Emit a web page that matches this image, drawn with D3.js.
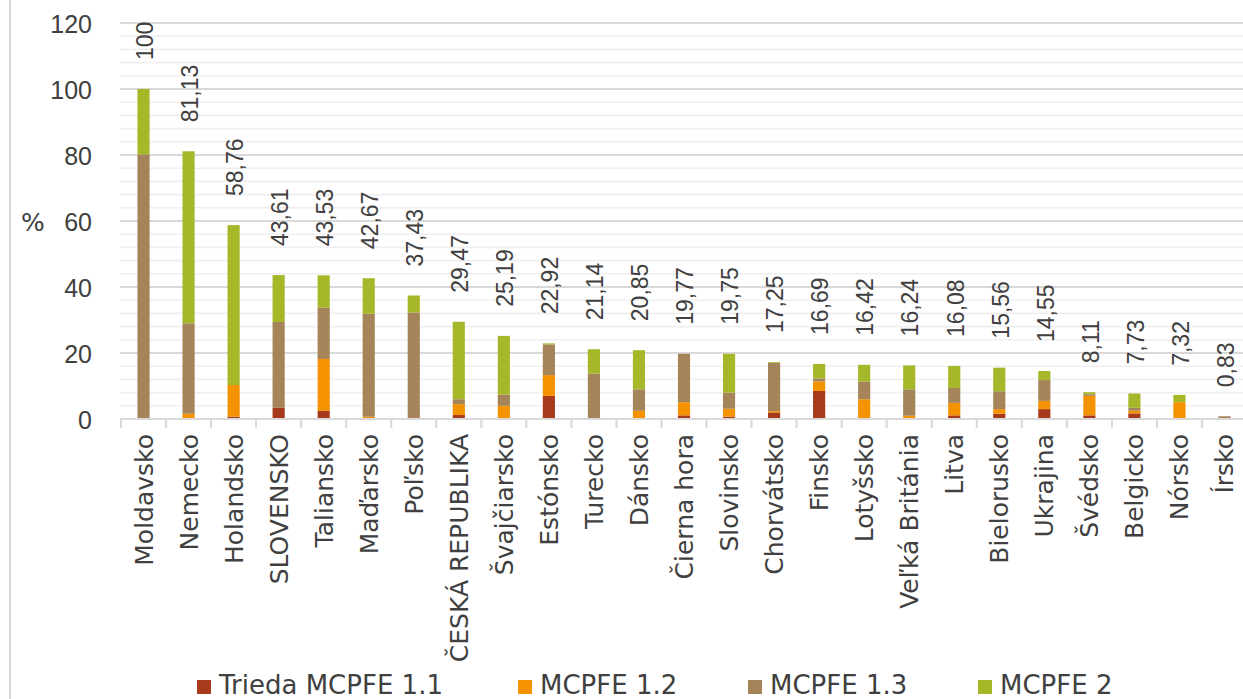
<!DOCTYPE html>
<html>
<head>
<meta charset="utf-8">
<script src="https://cdn.jsdelivr.net/npm/d3@7"></script>
<style>
  html, body { margin: 0; padding: 0; background: #fff; }
  svg { display: block; }
</style>
</head>
<body>
<svg id="chart" width="1243" height="699"></svg>
<script>
// ---- data ----
const categories = ["Moldavsko","Nemecko","Holandsko","SLOVENSKO","Taliansko","Maďarsko","Poľsko","ČESKÁ REPUBLIKA","Švajčiarsko","Estónsko","Turecko","Dánsko","Čierna hora","Slovinsko","Chorvátsko","Finsko","Lotyšsko","Veľká Británia","Litva","Bielorusko","Ukrajina","Švédsko","Belgicko","Nórsko","Írsko"];
const seriesNames = ["Trieda MCPFE 1.1","MCPFE 1.2","MCPFE 1.3","MCPFE 2"];
const mcpfe11 = [0,   0,   0.7, 3.5, 2.5,  0,    0.5, 1.2, 0,   7.0, 0,    0,    1.1, 0.7, 2.0, 8.5, 0,   0,   1.1, 1.6, 3.0, 1.1, 1.7, 0,   0];
const mcpfe12 = [0,   1.6, 9.6, 0,   15.7, 0.7,  0,   3.3, 4.0, 6.3, 0,    2.5,  4.0, 2.4, 0.4, 2.9, 6.0, 1.0, 3.8, 1.4, 2.5, 5.9, 0.8, 5.1, 0];
const mcpfe13 = [80.2,27.4,0,   25.9,15.6, 31.2, 31.8,1.5, 3.4, 9.3, 13.8, 6.5,  14.67,4.9,14.6,0.9, 5.3, 8.0, 4.5, 5.4, 6.3, 0.5, 0.9, 0,   0.83];
const mcpfe2  = [19.8,52.13,48.46,14.21,9.73,10.77,5.13,23.47,17.79,0.32,7.34,11.85,0,  11.75,0.25,4.39,5.12,7.24,6.68,7.16,2.75,0.61,4.33,2.22,0];
const totalLabels = ["100","81,13","58,76","43,61","43,53","42,67","37,43","29,47","25,19","22,92","21,14","20,85","19,77","19,75","17,25","16,69","16,42","16,24","16,08","15,56","14,55","8,11","7,73","7,32","0,83"];
const yTicks = [0,20,40,60,80,100,120];
const colors = ["#a63a1b","#f59200","#a6845a","#a6b829"];

// ---- build table ----
const seriesArrays = [mcpfe11, mcpfe12, mcpfe13, mcpfe2];
const table = categories.map((c, i) => {
  const row = {cat: c, label: totalLabels[i]};
  seriesNames.forEach((s, k) => row[s] = seriesArrays[k][i]);
  row.total = parseFloat(totalLabels[i].replace(",", "."));
  return row;
});
const stacked = d3.stack().keys(seriesNames)(table);

const svg = d3.select("#chart");
const textColor = "#404040";

// chart border (left)
svg.append("line").attr("x1", 10).attr("x2", 10).attr("y1", 0).attr("y2", 699)
  .attr("stroke", "#d9d9d9").attr("stroke-width", 2);

const y = d3.scaleLinear().domain([0, 120]).range([419, 23]);
const x = d3.scaleBand().domain(categories).range([121, 1247]).paddingInner(0.73).paddingOuter(0.365);
const plotLeft = 120, plotRight = 1247;

// minor gridlines
const minor = d3.range(0, 121, 4).filter(v => v % 20 !== 0);
svg.append("g").selectAll("line").data(minor).join("line")
  .attr("x1", plotLeft).attr("x2", plotRight)
  .attr("y1", d => y(d)).attr("y2", d => y(d))
  .attr("stroke", "#efefef").attr("stroke-width", 1.6);

// major gridlines
svg.append("g").selectAll("line").data(yTicks.filter(v => v > 0)).join("line")
  .attr("x1", plotLeft).attr("x2", plotRight)
  .attr("y1", d => y(d)).attr("y2", d => y(d))
  .attr("stroke", "#d9d9d9").attr("stroke-width", 2);

// y axis labels
const yAxis = d3.axisLeft(y).tickValues(yTicks).tickSize(0).tickPadding(0).tickFormat(d3.format("d"));
const gy = svg.append("g").attr("transform", "translate(92,0)").call(yAxis);
gy.select(".domain").remove();
gy.selectAll("text").attr("font-family", "Liberation Sans, Arial, sans-serif")
  .attr("font-size", 25).attr("fill", textColor).attr("dy", "0.36em");

// % label
svg.append("text").attr("x", 33).attr("y", 222).attr("dy", "0.36em")
  .attr("text-anchor", "middle").attr("font-family", "DejaVu Sans, sans-serif")
  .attr("font-size", 25).attr("fill", textColor).text("%");

// bars
svg.append("g").selectAll("g").data(stacked).join("g")
  .attr("fill", (d, i) => colors[i])
  .selectAll("rect").data(d => d).join("rect")
  .attr("x", d => x(d.data.cat))
  .attr("width", x.bandwidth())
  .attr("y", d => y(d[1]))
  .attr("height", d => Math.max(0, y(d[0]) - y(d[1])));

// x axis line and ticks
svg.append("line").attr("x1", plotLeft).attr("x2", plotRight).attr("y1", 419).attr("y2", 419)
  .attr("stroke", "#d9d9d9").attr("stroke-width", 2);
const bounds = d3.range(categories.length + 1).map(i => x.range()[0] + i * x.step());
svg.append("g").selectAll("line").data(bounds).join("line")
  .attr("x1", d => d).attr("x2", d => d).attr("y1", 419).attr("y2", 428)
  .attr("stroke", "#d9d9d9").attr("stroke-width", 2);

// category labels
svg.append("g").selectAll("text").data(categories).join("text")
  .attr("transform", d => `translate(${x(d) + x.bandwidth() / 2},434) rotate(-90)`)
  .attr("text-anchor", "end").attr("dy", "0.36em")
  .attr("font-family", "DejaVu Sans, sans-serif").attr("font-size", 25)
  .attr("fill", textColor).text(d => d);

// value labels
svg.append("g").selectAll("text").data(table).join("text")
  .attr("transform", d => `translate(${x(d.cat) + x.bandwidth() / 2 + 1},${y(d.total) - 29}) rotate(-90)`)
  .attr("text-anchor", "start").attr("dy", "0.36em")
  .attr("font-family", "Liberation Sans, Arial, sans-serif").attr("font-size", 23)
  .attr("fill", textColor).text(d => d.label);

// legend
const legendX = [197, 518, 748, 978];
const lg = svg.append("g").selectAll("g").data(seriesNames).join("g")
  .attr("transform", (d, i) => `translate(${legendX[i]},0)`);
lg.append("rect").attr("x", 0).attr("y", 680).attr("width", 14).attr("height", 14)
  .attr("fill", (d, i) => colors[i]);
lg.append("text").attr("x", 22).attr("y", 694)
  .attr("font-family", "DejaVu Sans, sans-serif").attr("font-size", 26)
  .attr("fill", textColor).text(d => d);
</script>
</body>
</html>
